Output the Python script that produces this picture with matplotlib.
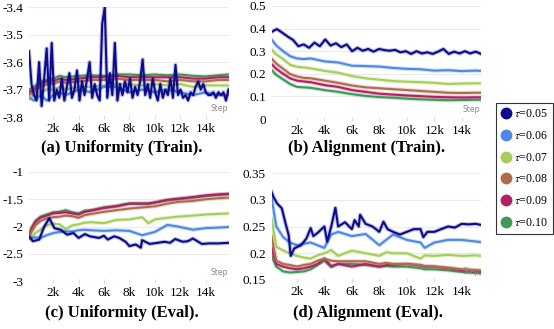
import numpy as np
import matplotlib
matplotlib.use("Agg")
import matplotlib.pyplot as plt
from matplotlib.lines import Line2D

plt.rcParams['font.family'] = ['Liberation Serif', 'DejaVu Serif']
plt.rcParams['mathtext.fontset'] = 'stix'

labels = [r'$\tau$=0.05', r'$\tau$=0.06', r'$\tau$=0.07', r'$\tau$=0.08', r'$\tau$=0.09', r'$\tau$=0.10']
colors = ['#0b0b8c', '#4d88e6', '#a5cf57', '#b06a4e', '#b21f62', '#3f9a55']

x_ticks = [2, 4, 6, 8, 10, 12, 14]
x_ticklabels = ['2k', '4k', '6k', '8k', '10k', '12k', '14k']

# ---------- (a) Uniformity (Train) ----------
a_navy_steps = np.linspace(0.1, 15.8, 80)
a_navy = [-3.56, -3.68, -3.72, -3.74, -3.60, -3.76, -3.66, -3.55, -3.74, -3.53,
          -3.74, -3.70, -3.73, -3.66, -3.74, -3.69, -3.64, -3.73, -3.70, -3.63,
          -3.74, -3.67, -3.72, -3.66, -3.60, -3.73, -3.68, -3.72, -3.74, -3.46,
          -3.40, -3.73, -3.64, -3.72, -3.53, -3.74, -3.68, -3.72, -3.67, -3.71,
          -3.66, -3.73, -3.69, -3.72, -3.67, -3.59, -3.72, -3.68, -3.73, -3.66,
          -3.71, -3.74, -3.68, -3.73, -3.70, -3.72, -3.66, -3.73, -3.61, -3.72,
          -3.70, -3.73, -3.72, -3.74, -3.71, -3.72, -3.69, -3.67, -3.70, -3.68,
          -3.71, -3.72, -3.72, -3.71, -3.73, -3.71, -3.72, -3.71, -3.74, -3.70]
a_steps = [0.1, 0.5, 1, 1.5, 2, 2.5, 3, 4, 5, 6, 7, 8, 9, 10, 11, 12, 13, 14, 15, 15.8]
a_blue = [-3.73, -3.74, -3.72, -3.74, -3.72, -3.71, -3.72, -3.70, -3.71, -3.69,
          -3.69, -3.71, -3.70, -3.71, -3.70, -3.71, -3.72, -3.71, -3.72, -3.72]
a_lgreen = [-3.73, -3.72, -3.71, -3.70, -3.70, -3.69, -3.70, -3.69, -3.69, -3.685,
            -3.68, -3.68, -3.685, -3.68, -3.685, -3.68, -3.69, -3.685, -3.685, -3.685]
a_brown = [-3.72, -3.71, -3.69, -3.68, -3.68, -3.67, -3.675, -3.67, -3.665, -3.665,
           -3.66, -3.665, -3.665, -3.665, -3.67, -3.665, -3.67, -3.67, -3.665, -3.665]
a_magenta = [-3.71, -3.70, -3.68, -3.67, -3.67, -3.66, -3.665, -3.66, -3.655, -3.655,
             -3.65, -3.655, -3.655, -3.655, -3.655, -3.655, -3.66, -3.66, -3.655, -3.655]
a_green = [-3.70, -3.69, -3.67, -3.665, -3.66, -3.65, -3.655, -3.65, -3.648, -3.65,
           -3.645, -3.645, -3.648, -3.645, -3.648, -3.645, -3.65, -3.652, -3.648, -3.645]

# ---------- (b) Alignment (Train) ----------
b_navy_steps = np.linspace(0.15, 15.4, 40)
b_navy = [0.385, 0.398, 0.382, 0.365, 0.350, 0.322, 0.330, 0.315, 0.338, 0.322,
          0.352, 0.325, 0.335, 0.318, 0.330, 0.300, 0.315, 0.302, 0.310, 0.298,
          0.310, 0.305, 0.302, 0.306, 0.295, 0.300, 0.288, 0.300, 0.290, 0.295,
          0.288, 0.298, 0.310, 0.288, 0.298, 0.290, 0.300, 0.290, 0.298, 0.288]
b_steps = [0.15, 0.5, 1, 1.5, 2, 2.5, 3, 4, 5, 6, 7, 8, 9, 10, 11, 12, 13, 14, 15, 15.4]
b_blue = [0.352, 0.325, 0.300, 0.278, 0.268, 0.265, 0.268, 0.255, 0.250, 0.236,
          0.234, 0.232, 0.226, 0.222, 0.220, 0.214, 0.216, 0.212, 0.214, 0.213]
b_lgreen = [0.308, 0.285, 0.265, 0.240, 0.231, 0.228, 0.224, 0.213, 0.205, 0.190,
            0.180, 0.174, 0.168, 0.165, 0.163, 0.160, 0.155, 0.157, 0.158, 0.158]
b_brown = [0.268, 0.245, 0.222, 0.199, 0.188, 0.182, 0.180, 0.170, 0.160, 0.148,
           0.140, 0.136, 0.132, 0.128, 0.124, 0.120, 0.116, 0.115, 0.116, 0.116]
b_magenta = [0.243, 0.222, 0.200, 0.180, 0.170, 0.166, 0.163, 0.150, 0.142, 0.128,
             0.120, 0.112, 0.108, 0.104, 0.101, 0.098, 0.096, 0.095, 0.096, 0.096]
b_green = [0.217, 0.195, 0.175, 0.155, 0.142, 0.140, 0.138, 0.128, 0.120, 0.110,
           0.102, 0.097, 0.094, 0.090, 0.087, 0.085, 0.083, 0.084, 0.085, 0.085]

# ---------- (c) Uniformity (Eval) ----------
c_navy_steps = [0.15, 0.4, 0.9, 1.3, 1.7, 2.1, 2.6, 3.1, 3.6, 4.0, 4.5, 4.9, 5.6, 6.0,
                6.3, 6.8, 7.2, 7.7, 8.0, 8.5, 8.9, 9.0, 9.6, 10.2, 10.8, 11.2, 11.6,
                12.2, 12.6, 13.0, 13.7, 14.3, 15.0, 15.8]
c_navy = [-2.19, -2.27, -2.24, -2.00, -1.85, -2.03, -2.06, -2.15, -2.12, -2.21, -2.14,
          -2.18, -2.21, -2.17, -2.24, -2.18, -2.21, -2.28, -2.36, -2.33, -2.39, -2.25,
          -2.32, -2.30, -2.28, -2.30, -2.23, -2.28, -2.27, -2.22, -2.32, -2.31, -2.31, -2.30]
c_steps = [0.1, 0.3, 0.6, 1, 1.5, 2, 2.5, 3, 3.5, 4, 4.5, 5, 6, 7, 8, 9, 9.5, 10,
           11, 11.8, 13, 14, 15, 15.8]
c_blue = [-2.22, -2.21, -2.20, -2.21, -2.16, -2.12, -2.10, -2.09, -2.09, -2.07, -2.06,
          -2.07, -2.08, -2.07, -2.08, -2.16, -2.13, -2.10, -1.97, -2.00, -2.06, -2.03,
          -2.02, -2.01]
c_lgreen = [-2.22, -2.20, -2.12, -2.06, -1.98, -1.95, -1.96, -2.05, -1.98, -1.96, -1.93,
            -1.92, -1.94, -1.88, -1.87, -1.83, -1.94, -1.87, -1.84, -1.82, -1.80, -1.78,
            -1.77, -1.76]
c_brown = [-2.20, -2.10, -1.98, -1.90, -1.85, -1.83, -1.82, -1.80, -1.81, -1.84, -1.79,
           -1.77, -1.73, -1.70, -1.67, -1.65, -1.64, -1.63, -1.58, -1.55, -1.53, -1.50,
           -1.48, -1.47]
c_magenta = [-2.18, -2.05, -1.92, -1.84, -1.80, -1.76, -1.75, -1.74, -1.76, -1.78, -1.73,
             -1.71, -1.66, -1.63, -1.58, -1.58, -1.58, -1.56, -1.51, -1.49, -1.46, -1.43,
             -1.41, -1.40]
c_green = [-2.16, -2.02, -1.90, -1.82, -1.78, -1.74, -1.73, -1.70, -1.74, -1.76, -1.71,
           -1.70, -1.65, -1.62, -1.58, -1.58, -1.58, -1.56, -1.52, -1.50, -1.47, -1.44,
           -1.42, -1.41]

# ---------- (d) Alignment (Eval) ----------
d_navy_steps = [0.15, 0.3, 0.56, 0.9, 1.2, 1.4, 1.55, 1.8, 2.3, 2.7, 3.0, 3.2, 3.5, 4.0,
                4.2, 4.5, 4.8, 5.0, 5.5, 6.0, 6.2, 6.5, 6.6, 7.0, 7.5, 8.0, 8.3, 8.6,
                9.0, 9.5, 10.0, 10.5, 11.0, 11.2, 11.5, 12.0, 12.5, 13.0, 13.5, 14.0,
                14.5, 15.0, 15.4]
d_navy = [0.315, 0.305, 0.293, 0.284, 0.253, 0.234, 0.195, 0.209, 0.215, 0.228, 0.247,
          0.232, 0.238, 0.250, 0.222, 0.250, 0.285, 0.250, 0.258, 0.245, 0.262, 0.250,
          0.272, 0.255, 0.250, 0.240, 0.259, 0.245, 0.240, 0.235, 0.240, 0.245, 0.245,
          0.230, 0.240, 0.240, 0.245, 0.250, 0.248, 0.255, 0.254, 0.255, 0.253]
d_steps = [0.15, 0.5, 1, 1.5, 2, 2.5, 3, 3.5, 4, 4.5, 5, 6, 7, 8, 8.5, 9, 10, 11,
           11.3, 12, 13, 14, 15, 15.4]
d_blue = [0.305, 0.250, 0.230, 0.220, 0.215, 0.218, 0.220, 0.215, 0.210, 0.235, 0.240,
          0.232, 0.236, 0.215, 0.225, 0.235, 0.225, 0.220, 0.210, 0.220, 0.225, 0.225,
          0.222, 0.221]
d_lgreen = [0.265, 0.212, 0.205, 0.200, 0.195, 0.192, 0.190, 0.196, 0.200, 0.206, 0.195,
            0.205, 0.200, 0.195, 0.202, 0.200, 0.200, 0.190, 0.196, 0.195, 0.197, 0.195,
            0.196, 0.195]
d_brown = [0.232, 0.186, 0.180, 0.178, 0.175, 0.178, 0.180, 0.186, 0.190, 0.186, 0.185,
           0.185, 0.185, 0.180, 0.182, 0.180, 0.180, 0.178, 0.176, 0.175, 0.173, 0.170,
           0.169, 0.168]
d_magenta = [0.210, 0.180, 0.175, 0.172, 0.170, 0.172, 0.175, 0.180, 0.190, 0.176, 0.180,
             0.175, 0.180, 0.175, 0.178, 0.178, 0.180, 0.177, 0.175, 0.175, 0.172, 0.168,
             0.166, 0.165]
d_green = [0.195, 0.175, 0.166, 0.164, 0.165, 0.166, 0.170, 0.178, 0.186, 0.174, 0.180,
           0.180, 0.178, 0.175, 0.176, 0.175, 0.175, 0.172, 0.170, 0.170, 0.168, 0.165,
           0.163, 0.162]

W, H = 554, 329
fig = plt.figure(figsize=(W / 100, H / 100), dpi=100)


def make_ax(left, right, top, bottom):
    return fig.add_axes([left / W, 1 - bottom / H, (right - left) / W, (bottom - top) / H])


panels = [
    dict(box=(29, 228.5, 7.3, 117), xlim=(0.1, 15.8), ylim=(-3.8, -3.4),
         yticks=[-3.8, -3.7, -3.6, -3.5, -3.4], yfmt=['-3.8', '-3.7', '-3.6', '-3.5', '-3.4'],
         navy=(a_navy_steps, a_navy), steps=a_steps,
         others=[a_blue, a_lgreen, a_brown, a_magenta, a_green],
         title='(a) Uniformity (Train).', ty=148, tx=122),
    dict(box=(271.5, 481, 6, 119), xlim=(0.15, 15.4), ylim=(0, 0.5),
         yticks=[0, 0.1, 0.2, 0.3, 0.4, 0.5], yfmt=['0', '0.1', '0.2', '0.3', '0.4', '0.5'],
         navy=(b_navy_steps, b_navy), steps=b_steps,
         others=[b_blue, b_lgreen, b_brown, b_magenta, b_green],
         title='(b) Alignment (Train).', ty=148, tx=367),
    dict(box=(29, 228.5, 172, 281), xlim=(0.1, 15.8), ylim=(-3, -1),
         yticks=[-3, -2.5, -2, -1.5, -1], yfmt=['-3', '-2.5', '-2', '-1.5', '-1'],
         navy=(c_navy_steps, c_navy), steps=c_steps,
         others=[c_blue, c_lgreen, c_brown, c_magenta, c_green],
         title='(c) Uniformity (Eval).', ty=313, tx=122),
    dict(box=(271.5, 481, 173, 280), xlim=(0.15, 15.4), ylim=(0.15, 0.35),
         yticks=[0.15, 0.2, 0.25, 0.3, 0.35], yfmt=['0.15', '0.2', '0.25', '0.3', '0.35'],
         navy=(d_navy_steps, d_navy), steps=d_steps,
         others=[d_blue, d_lgreen, d_brown, d_magenta, d_green],
         title='(d) Alignment (Eval).', ty=313, tx=368),
]

for p in panels:
    l, r, t, b = p['box']
    ax = make_ax(l, r, t, b)
    series = [p['navy']] + [(p['steps'], v) for v in p['others']]
    for i in range(5, -1, -1):
        xs, ys = series[i]
        ax.plot(xs, ys, color=colors[i], lw=3.0, alpha=0.25, solid_joinstyle='round')
        ax.plot(xs, ys, color=colors[i], lw=1.5, solid_joinstyle='round')
    ax.set_xlim(*p['xlim'])
    ax.set_ylim(*p['ylim'])
    ax.set_yticks(p['yticks'])
    ax.set_yticklabels(p['yfmt'])
    ax.set_xticks(x_ticks)
    ax.set_xticklabels(x_ticklabels)
    for s in ax.spines.values():
        s.set_visible(False)
    ax.grid(axis='y', color='#ebebeb', lw=0.8)
    ax.set_axisbelow(True)
    ax.tick_params(axis='y', length=0, pad=4, labelsize=9.5)
    ax.tick_params(axis='x', length=3, color='#dddddd', direction='inout', pad=3, labelsize=9.5)
    ax.text(0.995, 0.04, 'Step', transform=ax.transAxes, ha='right', va='bottom',
            fontsize=5.5, color='#8a8a8a', family='DejaVu Sans')
    fig.text(p['tx'] / W, 1 - p['ty'] / H, p['title'], ha='center', va='center',
             fontsize=12, fontweight='bold')

handles = [Line2D([], [], marker='o', ls='none', color=c, markersize=7.5) for c in colors]
leg = fig.legend(handles, labels, loc='upper left', bbox_to_anchor=(496 / W, 1 - 103 / H),
                 frameon=True, fancybox=False, edgecolor='black', fontsize=8.5,
                 labelspacing=0.82, handletextpad=0.3, borderpad=0.45, handlelength=0.8,
                 borderaxespad=0)
leg.get_frame().set_linewidth(0.8)

fig.savefig('out.png', dpi=100)
